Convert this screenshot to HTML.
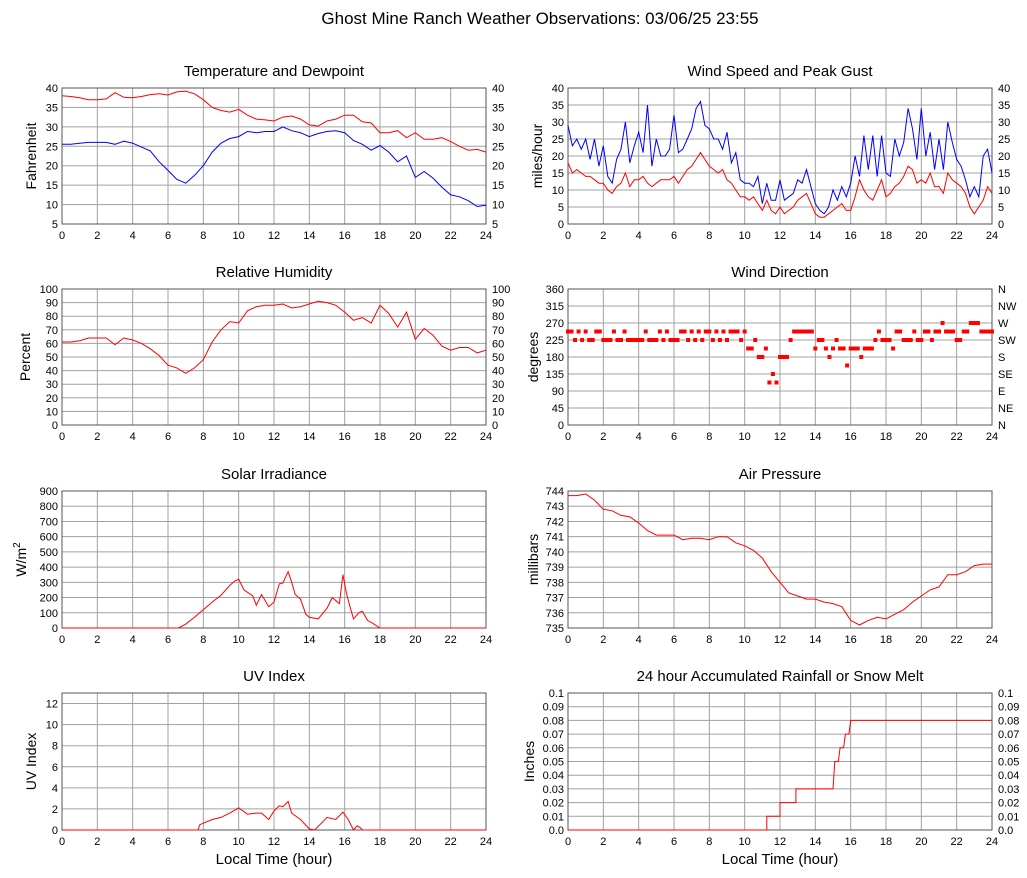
<!DOCTYPE html>
<html><head><meta charset="utf-8"><style>
html,body{margin:0;padding:0;background:#fff;}
svg{display:block;font-family:"Liberation Sans",sans-serif;}
</style></head><body>
<svg id="c" width="1027" height="878" viewBox="0 0 1027 878" xmlns="http://www.w3.org/2000/svg">
<text x="540" y="24" font-size="17" text-anchor="middle" fill="#000">Ghost Mine Ranch Weather Observations: 03/06/25 23:55</text>
</svg>
<script>
const xTicks=[0,2,4,6,8,10,12,14,16,18,20,22,24];
const tempVals=[38,37.8,37.5,37,37,37.2,38.8,37.6,37.5,37.8,38.3,38.5,38.2,39,39.2,38.5,37,35,34.2,33.8,34.5,33,32,31.8,31.5,32.5,32.8,32,30.5,30.2,31.5,32,33,33,31.3,31,28.5,28.5,29,27.2,28.5,26.8,26.8,27.2,26.2,25,24,24.2,23.5];
const dewVals=[25.5,25.5,25.8,26,26,26,25.5,26.3,25.8,24.8,23.8,21,18.8,16.5,15.5,17.5,20,23.5,25.8,27,27.5,28.8,28.5,28.8,28.8,30,29,28.5,27.5,28.3,28.8,29,28.5,26.5,25.5,24,25.2,23.5,21,22.5,17,18.5,16.8,14.5,12.5,12,11,9.5,9.8];
const rhVals=[61,61,62,64,64,64,59,64,62.5,60,56,51,44,42,38,42,48,61,70,76,75,84,87,88,88,89,86,87,89,91,90,88,83,77,79,75,88,82,72,83,63,71,66,58,55,57,57,53,55];
const pressVals=[743.7,743.7,743.8,743.4,742.8,742.7,742.4,742.3,741.9,741.4,741.1,741.1,741.1,740.8,740.9,740.9,740.8,741,741,740.6,740.4,740.1,739.6,738.7,738,737.3,737.1,736.9,736.9,736.7,736.6,736.4,735.5,735.2,735.5,735.7,735.6,735.9,736.2,736.7,737.1,737.5,737.7,738.5,738.5,738.7,739.1,739.2,739.2];
const solarHours=[0,6.6,7,7.5,8,8.5,9,9.5,9.8,10,10.3,10.8,11,11.3,11.7,12,12.3,12.5,12.8,13,13.2,13.5,13.8,14,14.5,15,15.3,15.7,15.9,16.1,16.3,16.5,16.8,17,17.3,17.6,18,24];
const solarVals=[0,0,25,70,120,170,215,280,310,320,250,210,150,220,140,170,290,295,370,300,220,190,90,70,60,130,200,160,350,230,140,60,100,110,50,30,0,0];
const uvHours=[0,7.7,7.8,8.5,9,9.5,10,10.5,11,11.3,11.7,12,12.3,12.5,12.8,13,13.5,14,14.3,14.6,15,15.5,15.9,16.2,16.5,16.7,16.9,17,24];
const uvVals=[0,0,0.5,1,1.2,1.6,2.1,1.5,1.6,1.6,1.0,1.8,2.3,2.2,2.7,1.6,1.0,0.1,0,0.5,1.2,1,1.7,1.0,0,0.4,0.2,0,0];
const rainHours=[0,11.25,11.25,12,12,12.9,12.9,15,15.1,15.3,15.4,15.6,15.7,15.9,16,24];
const rainVals=[0,0,0.01,0.01,0.02,0.02,0.03,0.03,0.05,0.05,0.06,0.06,0.07,0.07,0.08,0.08];
const gustVals=[29,23,25,22,25,19,25,17,23, 14,12,19,22,30,18,23,27, 21,35,17,25,20,20,22,32, 21,22,25,28,34,36,29,28, 25,25,22,27,18,21,13,12, 12,11,14,6,12,7,7,13, 7,8,9,13,12,16,11,6, 4,3,5,10,7,11,8,12, 20,14,26,16,26,14,26,15, 14,25,20,24,34,28,19,34, 20,27,16,25,16,30,24,19, 17,13,8,11,8,20,22,15];
const speedVals=[18,15,16,15,14,14,13,12,12, 10,9,11,12,15,11,13,13, 14,12,11,12,13,13,13,14, 12,14,16,17,19,21,19,17, 16,15,16,13,12,10,8,8, 7,8,6,4,7,4,3,5, 3,4,5,7,8,9,6,3, 2,2,3,4,5,6,4,4, 8,13,10,8,7,10,13,8, 9,11,12,14,17,16,12,13, 12,15,11,11,9,15,13,12, 11,9,5,3,5,7,11,9];
const dirVals=[247.5,247.5,225,247.5,225,247.5, 225,225,247.5,247.5,225,225,225, 247.5,225,225,247.5,225,225,225,225,225,247.5,225,225,225,247.5,225,247.5,225,225,225,247.5,247.5,225,247.5,225,247.5,225,247.5,247.5,225,247.5,225,247.5,225,247.5,247.5,247.5,225,247.5,202.5,202.5,225,180,180,202.5,112.5,135,112.5,180,180,180,225,247.5,247.5,247.5,247.5,247.5,247.5,202.5,225,225,202.5,180,202.5,225,202.5,202.5,157.5,202.5,202.5,202.5,180,202.5,202.5,202.5,225,247.5,225,225,225,202.5,247.5,247.5,225,225,225,247.5,225,225,247.5,247.5,225,247.5,247.5,270,247.5,247.5,247.5,225,225,247.5,247.5,270,270,270,247.5,247.5,247.5,247.5];
const tempTicks=[5,10,15,20,25,30,35,40];
const windTicks=[0,5,10,15,20,25,30,35,40];
const rhTicks=[0,10,20,30,40,50,60,70,80,90,100];
const dirTicks=[0,45,90,135,180,225,270,315,360];
const dirLabels=["N","NE","E","SE","S","SW","W","NW","N"];
const solarTicks=[0,100,200,300,400,500,600,700,800,900];
const pressTicks=[735,736,737,738,739,740,741,742,743,744];
const uvTicks=[0,2,4,6,8,10,12];
const rainTicks=[0,0.01,0.02,0.03,0.04,0.05,0.06,0.07,0.08,0.09,0.1];
const rainLabels=["0.0","0.01","0.02","0.03","0.04","0.05","0.06","0.07","0.08","0.09","0.1"];

const NS='http://www.w3.org/2000/svg';
const svg=document.getElementById('c');
function mk(tag,attrs,parent){const e=document.createElementNS(NS,tag);for(const k in attrs)e.setAttribute(k,attrs[k]);(parent||svg).appendChild(e);return e;}

function panel(o){
  const g=mk('g',{});
  
  
  const x0=o.x,x1=o.x+424,y0=o.y,y1=o.y+o.h;
  const sx=h=>x0+(h/24)*(x1-x0);
  const sy=v=>y1-(v-o.min)/(o.max-o.min)*(y1-y0);
  o.sx=sx;o.sy=sy;
  const t=mk('text',{x:(x0+x1)/2,y:y0-12,'font-size':15,'text-anchor':'middle',fill:'#000'},g);
  t.textContent=o.title;
  
  
  xTicks.forEach(h=>{
    const l=mk('line',{x1:sx(h),x2:sx(h),y1:y0,y2:y1,stroke:'#a0a0a0','stroke-width':1},g);
    
    
    const tx=mk('text',{x:sx(h),y:y1+15,'font-size':11,'text-anchor':'middle',fill:'#000'},g);
    tx.textContent=h;
    
    
  });
  o.ticks.forEach((v,i)=>{
    const l=mk('line',{x1:x0,x2:x1,y1:sy(v),y2:sy(v),stroke:'#a0a0a0','stroke-width':1},g);
    
    
    const lab=o.labels?o.labels[i]:v;
    const ty=mk('text',{x:x0-4,y:sy(v)+4,'font-size':11,'text-anchor':'end',fill:'#000'},g);
    ty.textContent=lab;
    
    
    if(o.right){
      const tr=mk('text',{x:x1+6,y:sy(v)+4,'font-size':11,'text-anchor':'start',fill:'#000'},g);
      tr.textContent=o.rightLabels?o.rightLabels[i]:lab;
      
      
    }
  });
  const fr=mk('rect',{x:x0,y:y0,width:x1-x0,height:y1-y0,fill:'none',stroke:'#555','stroke-width':1},g);
  
  
  const yt=mk('text',{x:0,y:0,'font-size':14,'text-anchor':'middle',fill:'#000',transform:`translate(${x0-o.ytOff},${(y0+y1)/2}) rotate(-90)`},g);
  yt.innerHTML=o.ytitle;
  
  
  if(o.xtitle){
    const xt=mk('text',{x:(x0+x1)/2,y:y1+34,'font-size':15,'text-anchor':'middle',fill:'#000'},g);
    xt.textContent='Local Time (hour)';
    
    
  }
  o.g=g;
  return o;
}
function line(o,vals,hours,color,name){
  const n=vals.length;
  const pts=vals.map((v,i)=>{const h=hours?hours[i]:i*24/(n-1);return o.sx(h).toFixed(1)+','+o.sy(v).toFixed(1);}).join(' ');
  const p=mk('polyline',{points:pts,fill:'none',stroke:color,'stroke-width':1},o.g);
  
  
}

const L=62,R=568;
const p1=panel({name:'temperature',title:'Temperature and Dewpoint',x:L,y:88,h:136,min:5,max:40,ticks:tempTicks,right:true,ytitle:'Fahrenheit',ytOff:26});
line(p1,tempVals,null,'#ff0000','temperature-line');
line(p1,dewVals,null,'#0000ff','dewpoint-line');
const p2=panel({name:'wind-speed',title:'Wind Speed and Peak Gust',x:R,y:88,h:136,min:0,max:40,ticks:windTicks,right:true,ytitle:'miles/hour',ytOff:26});
line(p2,gustVals,null,'#0000ff','gust-line');
line(p2,speedVals,null,'#ff0000','speed-line');
const p3=panel({name:'humidity',title:'Relative Humidity',x:L,y:289,h:136,min:0,max:100,ticks:rhTicks,right:true,ytitle:'Percent',ytOff:32});
line(p3,rhVals,null,'#ff0000','humidity-line');
const p4=panel({name:'wind-direction',title:'Wind Direction',x:R,y:289,h:136,min:0,max:360,ticks:dirTicks,right:true,rightLabels:dirLabels,ytitle:'degrees',ytOff:30});
dirVals.forEach((v,i)=>{
  const h=i*24/(dirVals.length-1);
  const r=mk('rect',{x:p4.sx(h)-2,y:p4.sy(v)-2,width:4,height:4,fill:'#ff0000'},p4.g);
  
  
});
const p5=panel({name:'solar',title:'Solar Irradiance',x:L,y:491,h:137,min:0,max:900,ticks:solarTicks,right:false,ytitle:'W/m<tspan dy="-6" font-size="10">2</tspan>',ytOff:36});
line(p5,solarVals,solarHours,'#ff0000','solar-line');
const p6=panel({name:'pressure',title:'Air Pressure',x:R,y:491,h:137,min:735,max:744,ticks:pressTicks,right:false,ytitle:'millibars',ytOff:30});
line(p6,pressVals,null,'#ff0000','pressure-line');
const p7=panel({name:'uv',title:'UV Index',x:L,y:693,h:137,min:0,max:13,ticks:uvTicks,right:false,ytitle:'UV Index',ytOff:26,xtitle:true});
line(p7,uvVals,uvHours,'#ff0000','uv-line');
const p8=panel({name:'rainfall',title:'24 hour Accumulated Rainfall or Snow Melt',x:R,y:693,h:137,min:0,max:0.1,ticks:rainTicks,labels:rainLabels,right:true,ytitle:'Inches',ytOff:34,xtitle:true});
line(p8,rainVals,rainHours,'#ff0000','rainfall-line');
</script>
</body></html>
